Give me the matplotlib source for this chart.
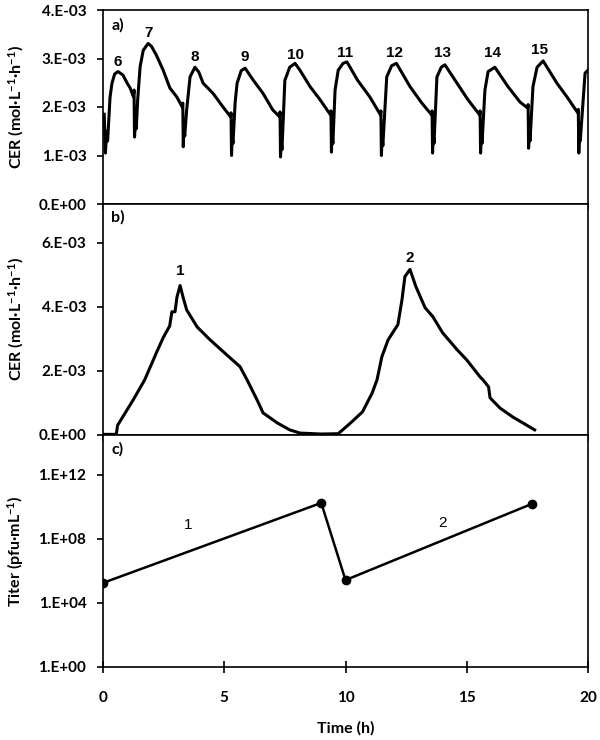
import matplotlib
matplotlib.use("Agg")
import matplotlib.pyplot as plt
from matplotlib.ticker import FixedLocator, NullLocator

plt.rcParams["font.family"] = ["Lato", "DejaVu Sans"]
plt.rcParams["mathtext.fontset"] = "custom"
plt.rcParams["mathtext.rm"] = "Lato:bold"
plt.rcParams["mathtext.bf"] = "Lato:bold"
plt.rcParams["mathtext.default"] = "bf"

# a) repeated cycles (CER, 1e-3 mol/L/h)
t_a = [0.05, 0.10, 0.15, 0.19, 0.29, 0.37, 0.48, 0.62, 0.82, 1.00, 1.12, 1.25,
       1.28, 1.30, 1.34, 1.37,
       1.43, 1.53, 1.66, 1.86, 2.00, 2.20, 2.48, 2.76, 3.04, 3.27,
       3.29, 3.31, 3.34, 3.37,
       3.45, 3.59, 3.79, 3.95, 4.13, 4.54, 4.95, 5.26,
       5.28, 5.30, 5.33, 5.36,
       5.45, 5.53, 5.70, 5.86, 6.20, 6.60, 7.00, 7.28,
       7.30, 7.32, 7.35, 7.38,
       7.50, 7.70, 7.92, 8.12, 8.54, 8.95, 9.38,
       9.40, 9.42, 9.45, 9.48,
       9.57, 9.70, 9.90, 10.06, 10.50, 11.00, 11.44,
       11.46, 11.48, 11.51, 11.54,
       11.70, 11.90, 12.10, 12.66, 13.15, 13.55,
       13.57, 13.59, 13.62, 13.65,
       13.77, 13.95, 14.10, 14.60, 15.05, 15.53,
       15.55, 15.57, 15.60, 15.63,
       15.75, 15.88, 16.16, 16.70, 17.20, 17.51,
       17.53, 17.55, 17.58, 17.61,
       17.73, 17.90, 18.15, 18.72, 19.13, 19.58,
       19.60, 19.62, 19.65, 19.68,
       19.88, 20.00]
cer_a = [1.85, 1.05, 1.50, 1.30, 2.20, 2.49, 2.68, 2.73, 2.66, 2.49, 2.39, 2.22,
         2.35, 1.38, 1.70, 1.55,
         2.15, 2.83, 3.17, 3.31, 3.25, 3.07, 2.76, 2.39, 2.21, 2.00,
         2.08, 1.18, 1.60, 1.40,
         1.94, 2.62, 2.82, 2.72, 2.49, 2.28, 2.00, 1.80,
         1.88, 1.00, 1.40, 1.25,
         2.10, 2.49, 2.75, 2.80, 2.55, 2.28, 1.94, 1.80,
         1.90, 0.97, 1.30, 1.12,
         2.55, 2.82, 2.90, 2.76, 2.42, 2.15, 1.84,
         1.92, 1.07, 1.45, 1.25,
         2.35, 2.76, 2.90, 2.93, 2.55, 2.21, 1.84,
         1.92, 1.00, 1.40, 1.20,
         2.62, 2.85, 2.90, 2.42, 2.08, 1.84,
         1.92, 1.05, 1.45, 1.25,
         2.62, 2.82, 2.87, 2.49, 2.15, 1.84,
         1.92, 1.05, 1.45, 1.25,
         2.35, 2.73, 2.82, 2.42, 2.10, 1.98,
         2.05, 1.15, 1.50, 1.30,
         2.42, 2.82, 2.95, 2.49, 2.21, 1.88,
         1.95, 1.05, 1.45, 1.30,
         2.70, 2.76]
cyc_lab = ["6", "7", "8", "9", "10", "11", "12", "13", "14", "15"]
cyc_t = [0.62, 1.86, 3.80, 5.86, 7.92, 9.98, 12.04, 14.02, 16.08, 18.02]
cyc_y = [2.93, 3.52, 3.03, 3.03, 3.07, 3.11, 3.11, 3.11, 3.11, 3.18]

# b) two batches (CER, 1e-3 mol/L/h)
t_b = [0.0, 0.55, 0.60, 0.99, 1.25, 1.72, 2.20, 2.48, 2.75, 2.84, 2.97, 3.05,
       3.18, 3.30, 3.45, 3.88, 4.41, 5.10, 5.65, 5.94, 6.35, 6.60, 7.20, 7.70,
       8.12, 9.00, 9.70, 10.2, 10.7, 11.1, 11.3, 11.5, 11.76, 12.16, 12.33,
       12.45, 12.66, 12.90, 13.28, 13.60, 14.0, 14.6, 15.0, 15.55, 15.67,
       15.90, 15.96, 16.37, 16.90, 17.8]
cer_b = [0.02, 0.02, 0.30, 0.78, 1.10, 1.72, 2.56, 3.03, 3.40, 3.84, 3.84, 4.30,
         4.66, 4.30, 3.90, 3.37, 2.97, 2.50, 2.13, 1.72, 1.10, 0.69, 0.37, 0.16,
         0.06, 0.03, 0.04, 0.37, 0.72, 1.31, 1.72, 2.44, 2.97, 3.44, 4.22,
         4.94, 5.16, 4.63, 3.97, 3.69, 3.19, 2.66, 2.34, 1.81, 1.72,
         1.50, 1.16, 0.84, 0.56, 0.16]

# c) titer
t_c = [0.0, 9.0, 10.0, 17.7]
titer = [1.8e5, 1.8e10, 2.7e5, 1.6e10]

W, H = 600, 740
fig = plt.figure(figsize=(W / 100, H / 100), dpi=100)
left, right = 103 / W, 588 / W


def panel(top_px, bot_px):
    return fig.add_axes([left, 1 - bot_px / H, right - left, (bot_px - top_px) / H])


ax_a = panel(10, 204)
ax_b = panel(204, 435)
ax_c = panel(435, 667)

lw = 2.2
ax_a.plot(t_a, [v * 1e-3 for v in cer_a], color="black", lw=lw)
ax_b.plot(t_b, [v * 1e-3 for v in cer_b], color="black", lw=lw)
ax_c.plot(t_c, titer, color="black", lw=1.8, marker="o", ms=6)
ax_c.set_yscale("log")

ax_a.set_ylim(0, 4e-3)
ax_a.yaxis.set_major_locator(FixedLocator([0, 1e-3, 2e-3, 3e-3, 4e-3]))
ax_a.set_yticklabels(["0.E+00", "1.E-03", "2.E-03", "3.E-03", "4.E-03"])
ax_b.set_ylim(0, 7.2e-3)
ax_b.yaxis.set_major_locator(FixedLocator([0, 2e-3, 4e-3, 6e-3]))
ax_b.set_yticklabels(["0.E+00", "2.E-03", "4.E-03", "6.E-03"])
ax_c.set_ylim(1, 10 ** 14.5)
ax_c.yaxis.set_major_locator(FixedLocator([1, 1e4, 1e8, 1e12]))
ax_c.yaxis.set_minor_locator(NullLocator())
ax_c.set_yticklabels(["1.E+00", "1.E+04", "1.E+08", "1.E+12"])

for ax in (ax_a, ax_b, ax_c):
    ax.set_xlim(0, 20)
    ax.xaxis.set_major_locator(FixedLocator([0, 5, 10, 15, 20]))
    for s in ax.spines.values():
        s.set_linewidth(1.2)
    ax.tick_params(axis="y", direction="out", length=4, width=1.2, pad=8,
                   labelsize=11)
    for lab in ax.get_yticklabels():
        lab.set_fontweight("bold")

for ax in (ax_a, ax_b):
    ax.tick_params(axis="x", direction="out", length=4, width=1.2, labelbottom=False)
ax_c.tick_params(axis="x", direction="inout", length=8, width=1.2, pad=13,
                 labelsize=11)
for lab in ax_c.get_xticklabels():
    lab.set_fontweight("bold")
ax_c.set_xlabel("Time (h)", fontsize=11.5, fontweight="bold", labelpad=12)

cer_label = "CER (mol·L$^{-1}$·h$^{-1}$)"
for ax in (ax_a, ax_b):
    ax.set_ylabel(cer_label, fontsize=11.5, fontweight="bold")
    ax.yaxis.set_label_coords(-0.158, 0.5)
ax_c.set_ylabel("Titer (pfu·mL$^{-1}$)", fontsize=11.5, fontweight="bold")
ax_c.yaxis.set_label_coords(-0.158, 0.5)

for lab, t, y in zip(cyc_lab, cyc_t, cyc_y):
    ax_a.text(t, y * 1e-3, lab, ha="center", va="center", fontsize=11,
              fontweight="bold", family="Liberation Sans")
ax_b.text(3.18, 5.1e-3, "1", ha="center", va="center", fontsize=11,
          fontweight="bold", family="Liberation Sans")
ax_b.text(12.66, 5.53e-3, "2", ha="center", va="center", fontsize=11,
          fontweight="bold", family="Liberation Sans")
ax_c.text(3.5, 10 ** 8.9, "1", ha="center", va="center", fontsize=11,
          family="Liberation Sans")
ax_c.text(14.0, 10 ** 9.0, "2", ha="center", va="center", fontsize=11,
          family="Liberation Sans")

ax_a.text(0.35, 3.69e-3, "a)", ha="left", va="center", fontsize=11.5, fontweight="bold")
ax_b.text(0.35, 6.78e-3, "b)", ha="left", va="center", fontsize=11.5, fontweight="bold")
ax_c.text(0.35, 10 ** 13.6, "c)", ha="left", va="center", fontsize=11.5, fontweight="bold")

fig.savefig("out.png", dpi=100)
